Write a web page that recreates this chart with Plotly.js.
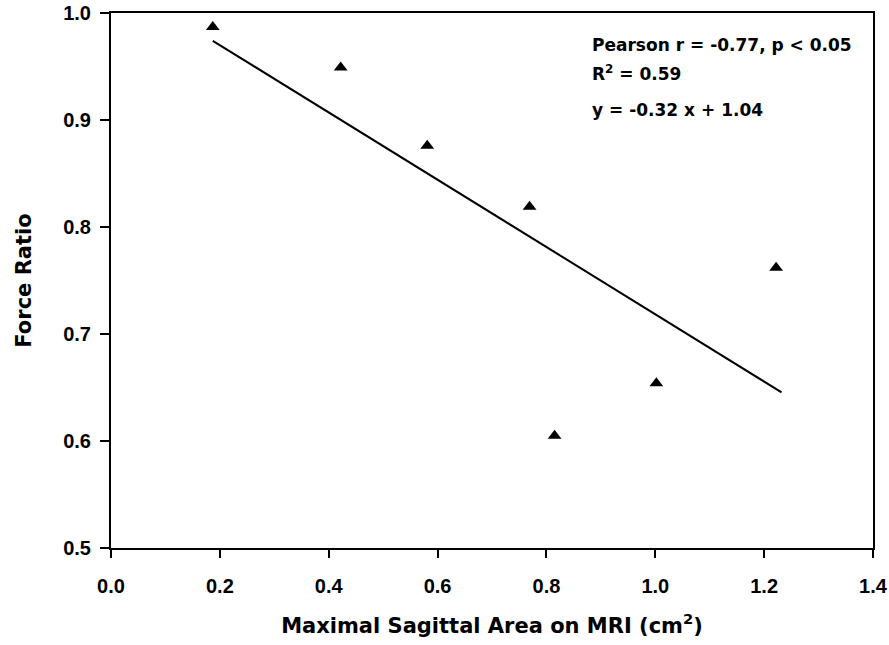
<!DOCTYPE html>
<html>
<head>
<meta charset="utf-8">
<script src="https://cdn.plot.ly/plotly-3.0.1.min.js"></script>
<style>
html,body{margin:0;padding:0;background:#fff;}
#chart{width:889px;height:645px;}
</style>
</head>
<body>
<div id="chart"></div>
<script>
// Data
const sagittalArea = [0.187, 0.422, 0.581, 0.769, 0.815, 1.002, 1.222];
const forceRatio   = [0.987, 0.949, 0.876, 0.819, 0.605, 0.654, 0.762];
const trendX = [0.187, 1.232];
const trendY = [0.974, 0.6455];
const xTickVals = [0, 0.2, 0.4, 0.6, 0.8, 1.0, 1.2, 1.4];
const xTickText = ["0.0", "0.2", "0.4", "0.6", "0.8", "1.0", "1.2", "1.4"];
const yTickVals = [0.5, 0.6, 0.7, 0.8, 0.9, 1.0];
const yTickText = ["0.5", "0.6", "0.7", "0.8", "0.9", "1.0"];
const statsLines = ["Pearson r = -0.77, p < 0.05", "R<sup>2</sup> = 0.59", "y = -0.32 x + 1.04"];
const statsY = [0.940, 0.888, 0.818];

const tickFont = {family: "Liberation Sans, Arial, sans-serif", size: 20, color: "#000", weight: "bold"};
const titleFont = {family: "DejaVu Sans, sans-serif", size: 21, color: "#000", weight: "bold"};
const annFont = {family: "DejaVu Sans, sans-serif", size: 17, color: "#000", weight: "bold"};

const traces = [
  {
    x: trendX, y: trendY, type: "scatter", mode: "lines",
    line: {color: "#000", width: 2}, hoverinfo: "skip", showlegend: false
  },
  {
    x: sagittalArea, y: forceRatio, type: "scatter", mode: "markers",
    marker: {symbol: "triangle-up", size: 12, color: "#000"}, showlegend: false
  }
];

const annotations = statsLines.map((t, i) => ({
  text: t, xref: "paper", yref: "paper", x: 0.6286, y: statsY[i],
  xanchor: "left", yanchor: "middle", showarrow: false, font: annFont
}));

const layout = {
  width: 889, height: 645,
  margin: {l: 111, r: 16, t: 13, b: 97, pad: 0},
  paper_bgcolor: "#fff", plot_bgcolor: "#fff",
  showlegend: false,
  xaxis: {
    range: [0, 1.4], tickvals: xTickVals, ticktext: xTickText,
    showgrid: false, zeroline: false,
    showline: true, linecolor: "#000", linewidth: 2, mirror: true,
    ticks: "outside", ticklen: 8, tickwidth: 2, tickcolor: "#000",
    tickfont: tickFont, ticklabelstandoff: 11,
    title: {text: "Maximal Sagittal Area on MRI (cm<sup>2</sup>)", font: titleFont, standoff: 22}
  },
  yaxis: {
    range: [0.5, 1.0], tickvals: yTickVals, ticktext: yTickText,
    showgrid: false, zeroline: false,
    showline: true, linecolor: "#000", linewidth: 2, mirror: true,
    ticks: "outside", ticklen: 9, tickwidth: 2, tickcolor: "#000",
    tickfont: tickFont, ticklabelstandoff: 5,
    title: {text: "Force Ratio", font: titleFont, standoff: 26}
  },
  annotations: annotations
};

Plotly.newPlot("chart", traces, layout, {displayModeBar: false, staticPlot: true});
</script>
</body>
</html>
